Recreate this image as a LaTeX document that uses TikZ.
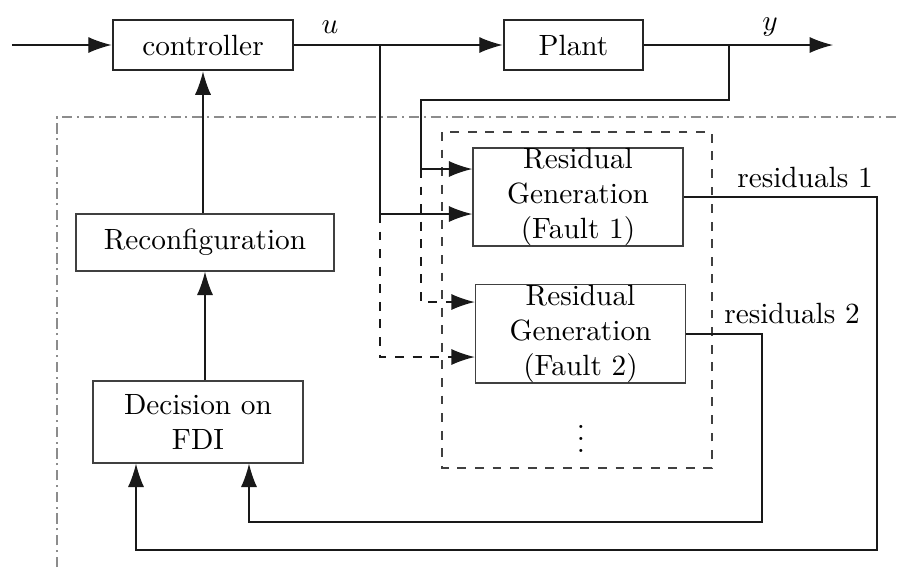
\documentclass[tikz,border=0pt]{standalone}
\usepackage{amsmath,amssymb}
\usepackage{xcolor}
\usepackage{tikz}
\usetikzlibrary{arrows.meta, positioning}

\begin{document}
\begin{tikzpicture}[
    block/.style={rectangle, draw=black!75, line width=0.5pt, align=center, inner sep=0pt},
    mainblock/.style={block, draw=black!85, line width=0.9pt, minimum height=0.6cm},
    resblock/.style={block, minimum width=2.52cm, minimum height=1.18cm},
    label/.style={inner sep=0pt},
    arrow/.style={-{Latex[length=8pt, width=5.5pt]}, line width=0.5pt, black!90},
    feed/.style={arrow, dashed},
    frame/.style={black!45, line width=0.7pt, dash pattern=on 3.5pt off 1.6pt on 0.7pt off 1.6pt},
]
\useasboundingbox (0,0) rectangle (10.8,-6.804);

% FDI frame, open to the right and bottom
\draw[frame] (0.684,-6.804) |- (10.8,-1.404);

\node[mainblock, minimum width=2.16cm] (ctrl) at (2.436,-0.54) {controller};
\node[mainblock, minimum width=1.668cm] (plant) at (6.882,-0.54) {Plant};
\node[block, minimum width=3.10cm, minimum height=0.68cm] (recon) at (2.46,-2.91) {Reconfiguration};
\node[block, minimum width=2.52cm, minimum height=0.98cm] (dec) at (2.376,-5.064) {Decision on\\FDI};
\node[resblock] (res1) at (6.936,-2.364) {Residual\\Generation\\(Fault 1)};
\node[resblock, below=0.444cm of res1, xshift=0.03cm] (res2) {Residual\\Generation\\(Fault 2)};
\node[label] (dots) at (6.972,-5.16) {$\vdots$};

% bank of residual generators
\draw[dashed, line width=0.5pt, black!75] (5.304,-1.584) rectangle (8.544,-5.616);

\coordinate (in) at (0.144,-0.54);
\coordinate (out) at (9.996,-0.54);
\coordinate (ub) at (4.56,-0.54);
\coordinate (ua) at (4.56,-2.568);
\coordinate (uc) at (4.56,-4.284);
\coordinate (yb) at (8.748,-0.54);
\coordinate (yl) at (5.05,-1.2);
\coordinate (ya) at (5.05,-2.028);
\coordinate (yc) at (5.05,-3.624);
\coordinate (r1) at (10.524,-6.6);
\coordinate (r2) at (9.144,-6.264);
\coordinate (d1) at (1.632,-6.6);
\coordinate (d2) at (2.988,-6.264);

\draw[arrow] (in) -- (ctrl);
\draw[arrow] (ctrl) -- (plant);
\draw[arrow] (plant) -- (out);
\node[label] (ulab) at (3.96,-0.324) {$u$};
\node[label] (ylab) at (9.24,-0.324) {$y$};

% u and y into the generators
\draw[arrow] (ub) -- (ua) -- (ua -| res1.west);
\draw[feed] (ua) -- (uc) -- (uc -| res2.west);
\draw[arrow] (yb) |- (yl) |- (ya -| res1.west);
\draw[feed] (ya) -- (yc) -- (yc -| res2.west);

% residuals back to the decision
\draw[arrow] (res1.east) -| (r1) -- (d1) -- (d1 |- dec.south);
\draw[arrow] (res2.east) -| (r2) -- (d2) -- (d2 |- dec.south);
\node[label] (rlab1) at (9.66,-2.124) {residuals 1};
\node[label] (rlab2) at (9.504,-3.756) {residuals 2};

\draw[arrow] (dec.north -| recon.south) -- (recon.south);
\draw[arrow] (recon.north -| ctrl.south) -- (ctrl.south);
\end{tikzpicture}
\end{document}
